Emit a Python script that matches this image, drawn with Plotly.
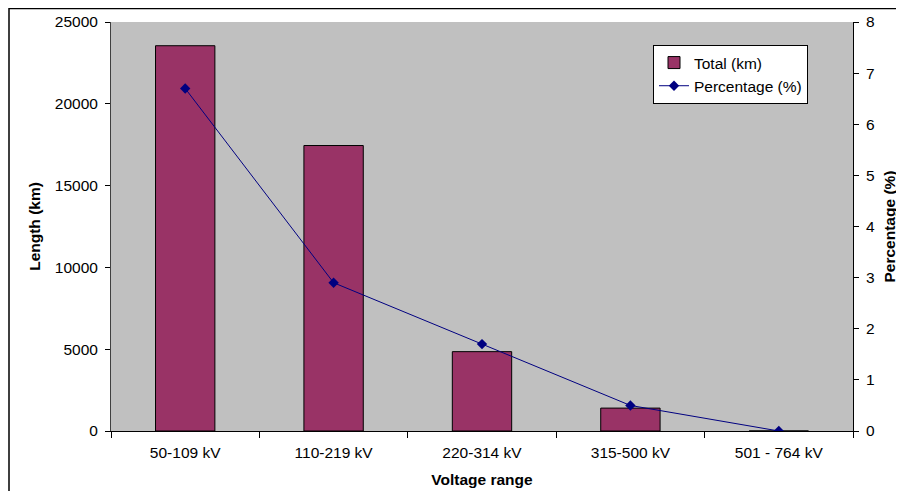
import plotly.graph_objects as go

categories = ["50-109 kV", "110-219 kV", "220-314 kV", "315-500 kV", "501 - 764 kV"]
total_km = [23550, 17450, 4850, 1400, 0]
percentage = [6.7, 2.9, 1.7, 0.5, 0.0]

FONT = "Liberation Sans, Arial, sans-serif"
FS = 15.5

# page body has an 8px margin, so the figure is drawn 8px right/down
OFF = 8
W, H = 904 - OFF, 491 - OFF
L, T = 111 - OFF, 22 - OFF
R, B = 904 - 853, 491 - 431
pw, ph = W - L - R, H - T - B

fig = go.Figure()
fig.add_trace(go.Bar(
    x=categories, y=total_km, name="Total (km)",
    marker=dict(color="#993366", line=dict(color="#000000", width=1)),
    width=0.4, yaxis="y"))
fig.add_trace(go.Scatter(
    x=categories, y=percentage, name="Percentage (%)", mode="lines+markers",
    line=dict(color="#000080", width=1),
    marker=dict(symbol="diamond", size=8, color="#000080"),
    yaxis="y2"))

fig.update_layout(
    width=W, height=H,
    margin=dict(l=L, r=R, t=T, b=B),
    paper_bgcolor="white", plot_bgcolor="#C0C0C0",
    font=dict(family=FONT, size=FS, color="black"),
    showlegend=True,
    legend=dict(x=(653 - 111) / pw, y=1 - (45 - 22) / ph, xanchor="left", yanchor="top",
                bgcolor="white", bordercolor="black", borderwidth=1,
                font=dict(size=FS), tracegroupgap=0),
    xaxis=dict(type="category", showline=True, linecolor="black", linewidth=1,
               ticks="outside", tickson="boundaries", ticklen=6, tickcolor="black",
               showgrid=False, zeroline=False, automargin=False, ticklabelstandoff=7,
               title=dict(text="<b>Voltage range</b>", font=dict(size=FS), standoff=14)),
    yaxis=dict(range=[0, 25000], dtick=5000, showline=True, linecolor="#404040", linewidth=1,
               ticks="outside", ticklen=5, tickcolor="black", showgrid=False, zeroline=False,
               tickformat="d", automargin=False, ticklabelstandoff=4,
               title=dict(text="<b>Length (km)</b>", font=dict(size=FS), standoff=10)),
    yaxis2=dict(range=[0, 8], dtick=1, overlaying="y", side="right", showline=True,
                linecolor="black", linewidth=1, ticks="outside", ticklen=5, tickcolor="black",
                showgrid=False, zeroline=False, automargin=False, ticklabelstandoff=4,
                title=dict(text="<b>Percentage (%)</b>", font=dict(size=FS), standoff=10)),
    shapes=[dict(type="rect", xref="paper", yref="paper",
                 x0=(1 - L) / pw, x1=1 + (R + 20) / pw, y0=-(B + 20) / ph, y1=1 + (T - 0.5) / ph,
                 line=dict(color="black", width=1.5), fillcolor="rgba(0,0,0,0)", layer="below")],
)

fig.write_html("out.html")
